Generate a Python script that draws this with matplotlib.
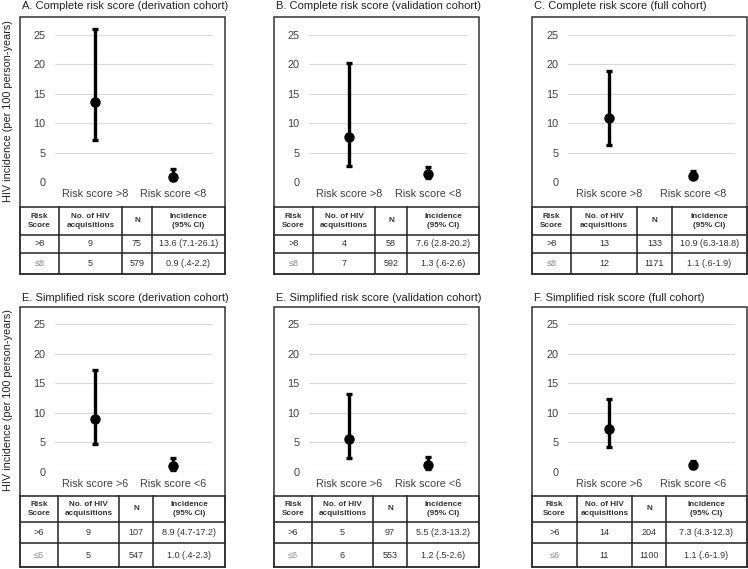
import matplotlib
matplotlib.use("Agg")
import matplotlib.pyplot as plt
from matplotlib.patches import Rectangle
import numpy as np

plt.rcParams['font.family'] = ['Liberation Sans', 'DejaVu Sans']

W, H = 748, 569

titles = ["A. Complete risk score (derivation cohort)",
          "B. Complete risk score (validation cohort)",
          "C. Complete risk score (full cohort)",
          "E. Simplified risk score (derivation cohort)",
          "E. Simplified risk score (validation cohort)",
          "F. Simplified risk score (full cohort)"]

cutoffs = ["8", "8", "8", "6", "6", "6"]

# incidence per 100 person-years: [high score, low score]
incidence = [[13.6, 0.9], [7.6, 1.3], [10.9, 1.1],
             [8.9, 1.0], [5.5, 1.2], [7.3, 1.1]]
ci_low = [[7.1, 0.4], [2.8, 0.6], [6.3, 0.6],
          [4.7, 0.4], [2.3, 0.5], [4.3, 0.6]]
ci_high = [[26.1, 2.2], [20.2, 2.6], [18.8, 1.9],
           [17.2, 2.3], [13.2, 2.6], [12.3, 1.9]]

acquisitions = [[9, 5], [4, 7], [13, 12], [9, 5], [5, 6], [14, 11]]
n_people = [[75, 579], [58, 592], [133, 1171], [107, 547], [97, 553], [204, 1100]]
ci_text = [["13.6 (7.1-26.1)", "0.9 (.4-2.2)"],
           ["7.6 (2.8-20.2)", "1.3 (.6-2.6)"],
           ["10.9 (6.3-18.8)", "1.1 (.6-1.9)"],
           ["8.9 (4.7-17.2)", "1.0 (.4-2.3)"],
           ["5.5 (2.3-13.2)", "1.2 (.5-2.6)"],
           ["7.3 (4.3-12.3)", "1.1 (.6-1.9)"]]

header = ["Risk\nScore", "No. of HIV\nacquisitions", "N", "Incidence\n(95% CI)"]

# layout in pixels
# per panel: column lines (box left .. box right), grid x range, point x
panels_x = [
    dict(cols=[20, 59, 122, 152, 225], g=(55, 213), p=(95, 173)),
    dict(cols=[274, 313, 375, 407, 479], g=(309, 467), p=(349, 428)),
    dict(cols=[532, 571, 637, 672, 747], g=(568, 735), p=(609, 693)),
    dict(cols=[20, 58, 119, 153, 225], g=(55, 213), p=(95, 173)),
    dict(cols=[274, 312, 373, 407, 479], g=(309, 467), p=(349, 428)),
    dict(cols=[532, 577, 632, 666, 747], g=(568, 735), p=(609, 693)),
]
# per row: title y, box top, y of 25, y of 0, table lines, y label centre
rows_y = [
    dict(title=6, top=17, y25=35, y0=182, t=[207, 235, 253, 274], ylab=111),
    dict(title=298, top=307, y25=324, y0=472, t=[496, 522, 543, 567], ylab=400),
]

fig = plt.figure(figsize=(W / 100, H / 100), dpi=100)


def fpos(x0, y0, x1, y1):
    return [x0 / W, 1 - y1 / H, (x1 - x0) / W, (y1 - y0) / H]


for i in range(6):
    px = panels_x[i]
    ry = rows_y[i // 3]
    cols = px['cols']
    g0, g1 = px['g']
    p0, p1 = px['p']

    ax = fig.add_axes(fpos(g0, ry['y25'], g1, ry['y0']))
    x = np.arange(2)
    inc = np.array(incidence[i])
    lo = np.array(ci_low[i])
    hi = np.array(ci_high[i])
    ax.errorbar(x, inc, yerr=[inc - lo, hi - inc], fmt='o', color='black',
                ms=6.5, elinewidth=2.4, capsize=2.2, capthick=2.4, clip_on=False, zorder=3)
    ax.set_ylim(0, 25)
    ax.set_xlim((g0 - p0) / (p1 - p0), (g1 - p0) / (p1 - p0))
    ax.set_yticks([0, 5, 10, 15, 20, 25])
    ax.set_xticks(x)
    ax.set_xticklabels(["Risk score >" + cutoffs[i], "Risk score <" + cutoffs[i]])
    ax.tick_params(length=0, labelsize=7.8, labelcolor='#404040')
    ax.tick_params(axis='y', pad=7)
    ax.tick_params(axis='x', pad=5)
    ax.grid(axis='y', color='#d9d9d9', lw=0.8)
    ax.set_axisbelow(True)
    for s in ax.spines.values():
        s.set_visible(False)
    ax.patch.set_alpha(0)

    # outer box
    t0, t1, t2, t3 = ry['t']
    fig.add_artist(Rectangle((cols[0] / W, 1 - t3 / H), (cols[-1] - cols[0]) / W,
                             (t3 - ry['top']) / H, transform=fig.transFigure,
                             fill=False, ec='#333333', lw=1.1))

    # table
    tax = fig.add_axes(fpos(cols[0], t0, cols[-1], t3))
    tax.set_xlim(cols[0], cols[-1])
    tax.set_ylim(t3, t0)
    tax.axis('off')
    for yy in [t0, t1, t2, t3]:
        tax.plot([cols[0], cols[-1]], [yy, yy], color='#222222', lw=1.1, clip_on=False)
    for xx in cols:
        tax.plot([xx, xx], [t0, t3], color='#222222', lw=1.1, clip_on=False)
    mids = [(cols[k] + cols[k + 1]) / 2 for k in range(4)]
    for k in range(4):
        tax.text(mids[k], (t0 + t1) / 2, header[k], ha='center', va='center',
                 fontsize=5.9, fontweight='bold', color='#333333', linespacing=1.3)
    row_vals = [
        [">" + cutoffs[i], str(acquisitions[i][0]), str(n_people[i][0]), ci_text[i][0]],
        ["\u2264" + cutoffs[i], str(acquisitions[i][1]), str(n_people[i][1]), ci_text[i][1]],
    ]
    for r, (ya, yb) in enumerate([(t1, t2), (t2, t3)]):
        for k in range(4):
            c = '#888888' if (r == 1 and k == 0) else '#333333'
            tax.text(mids[k], (ya + yb) / 2, row_vals[r][k], ha='center', va='center',
                     fontsize=6.5, color=c)

    # title
    fig.text((cols[0] + 2) / W, 1 - ry['title'] / H, titles[i], ha='left', va='center',
             fontsize=8.0, color='#222222')

for ry in rows_y:
    fig.text(8 / W, 1 - ry['ylab'] / H,
             "HIV incidence (per 100 person-years)", rotation=90,
             ha='center', va='center', fontsize=7.8, color='#222222')

fig.savefig("out.png", dpi=100)
